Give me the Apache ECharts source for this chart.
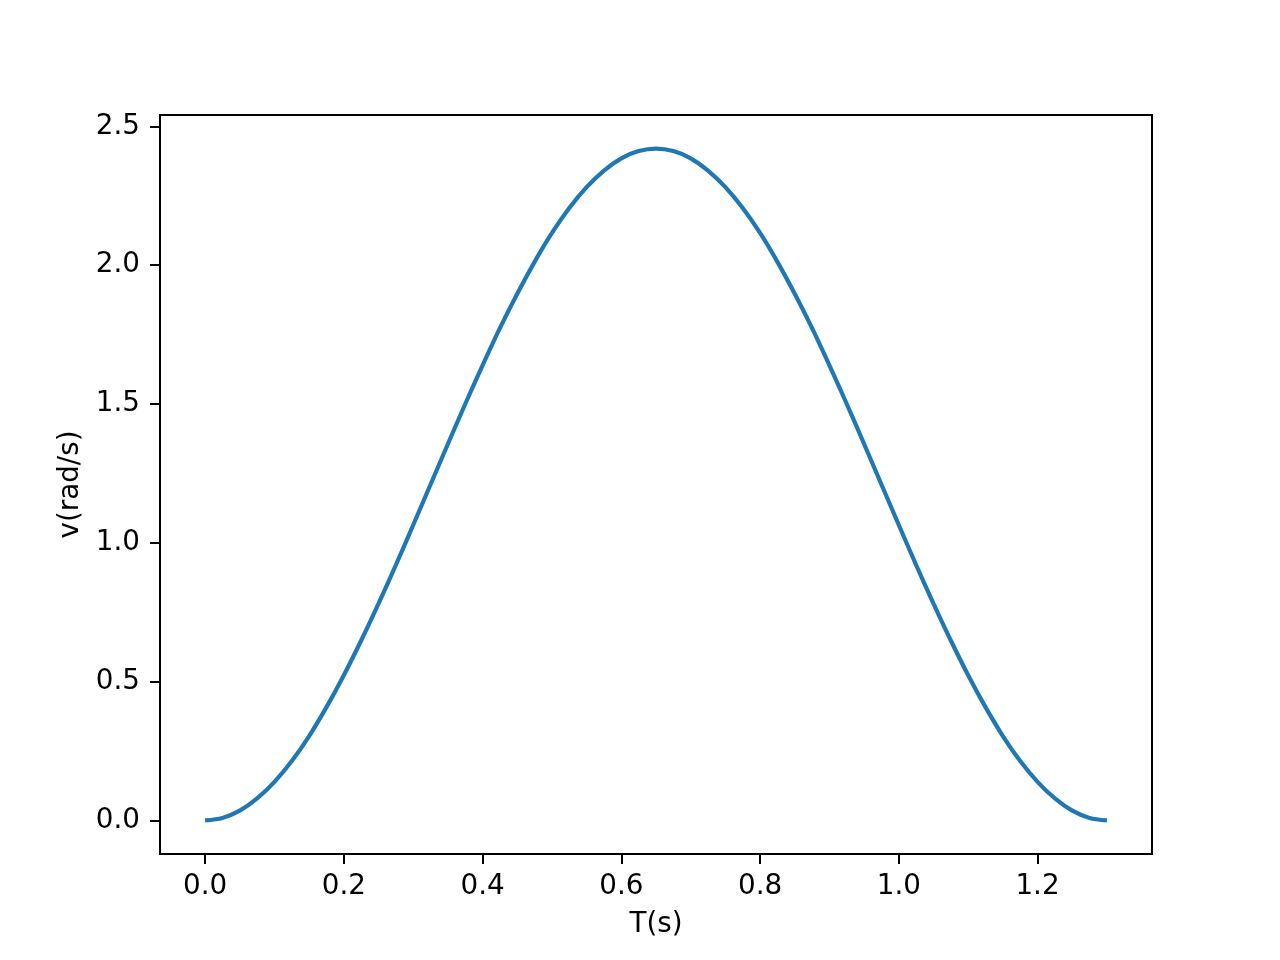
<!DOCTYPE html>
<html>
<head>
<meta charset="utf-8">
<script src="https://cdn.jsdelivr.net/npm/echarts@6/dist/echarts.min.js"></script>
<style>
  html, body { margin: 0; padding: 0; background: #fff; }
  #chart { width: 1280px; height: 960px; }
</style>
</head>
<body>
<div id="chart"></div>
<script>
// time samples (s)
const times = [0, 0.025, 0.05, 0.075, 0.1, 0.125, 0.15, 0.175, 0.2, 0.225, 0.25, 0.275, 0.3, 0.325,
  0.35, 0.375, 0.4, 0.425, 0.45, 0.475, 0.5, 0.525, 0.55, 0.575, 0.6, 0.625, 0.65,
  0.675, 0.7, 0.725, 0.75, 0.775, 0.8, 0.825, 0.85, 0.875, 0.9, 0.925, 0.95, 0.975,
  1.0, 1.025, 1.05, 1.075, 1.1, 1.125, 1.15, 1.175, 1.2, 1.225, 1.25, 1.275, 1.3];
// velocity (rad/s)
const velocity = [0, 0.009, 0.035, 0.079, 0.139, 0.214, 0.304, 0.408, 0.523, 0.648, 0.781, 0.920, 1.064, 1.210,
  1.356, 1.500, 1.639, 1.773, 1.897, 2.012, 2.116, 2.206, 2.281, 2.341, 2.385, 2.411, 2.42,
  2.411, 2.385, 2.341, 2.281, 2.206, 2.116, 2.012, 1.897, 1.773, 1.639, 1.500, 1.356, 1.210,
  1.064, 0.920, 0.781, 0.648, 0.523, 0.408, 0.304, 0.214, 0.139, 0.079, 0.035, 0.009, 0];
const xTicks = [0, 0.2, 0.4, 0.6, 0.8, 1.0, 1.2];
const yTicks = [0, 0.5, 1.0, 1.5, 2.0, 2.5];

const font = "DejaVu Sans";
const chart = echarts.init(document.getElementById("chart"));

const options = {
  animation: false,
  grid: {
    left: 160,
    top: 115,
    width: 992,
    height: 739,
    show: true,
    borderColor: "#000",
    borderWidth: 2,
    backgroundColor: "transparent",
  },
  xAxis: {
    type: "value",
    min: -0.065,
    max: 1.365,
    name: "T(s)",
    nameLocation: "middle",
    nameGap: 57,
    nameTextStyle: { color: "#000", fontFamily: font, fontSize: 27.8 },
    axisLine: { show: true, onZero: false, lineStyle: { color: "#000", width: 2 } },
    splitLine: { show: false },
    axisTick: {
      show: true,
      length: 10,
      customValues: xTicks,
      lineStyle: { color: "#000", width: 2 },
    },
    axisLabel: {
      margin: 19,
      color: "#000",
      fontFamily: font,
      fontSize: 27.8,
      customValues: xTicks,
      formatter: (v) => v.toFixed(1),
    },
  },
  yAxis: {
    type: "value",
    min: -0.121,
    max: 2.541,
    name: "v(rad/s)",
    nameLocation: "middle",
    nameGap: 74,
    nameTextStyle: { color: "#000", fontFamily: font, fontSize: 27.8 },
    axisLine: { show: true, onZero: false, lineStyle: { color: "#000", width: 2 } },
    splitLine: { show: false },
    axisTick: {
      show: true,
      length: 10,
      customValues: yTicks,
      lineStyle: { color: "#000", width: 2 },
    },
    axisLabel: {
      margin: 20,
      color: "#000",
      fontFamily: font,
      fontSize: 27.8,
      customValues: yTicks,
      formatter: (v) => v.toFixed(1),
    },
  },
  series: [
    {
      type: "line",
      data: times.map((t, i) => [t, velocity[i]]),
      smooth: 0.3,
      showSymbol: false,
      symbol: "none",
      lineStyle: { color: "#1f77b4", width: 4.2 },
    },
  ],
};

chart.setOption(options);
</script>
</body>
</html>
